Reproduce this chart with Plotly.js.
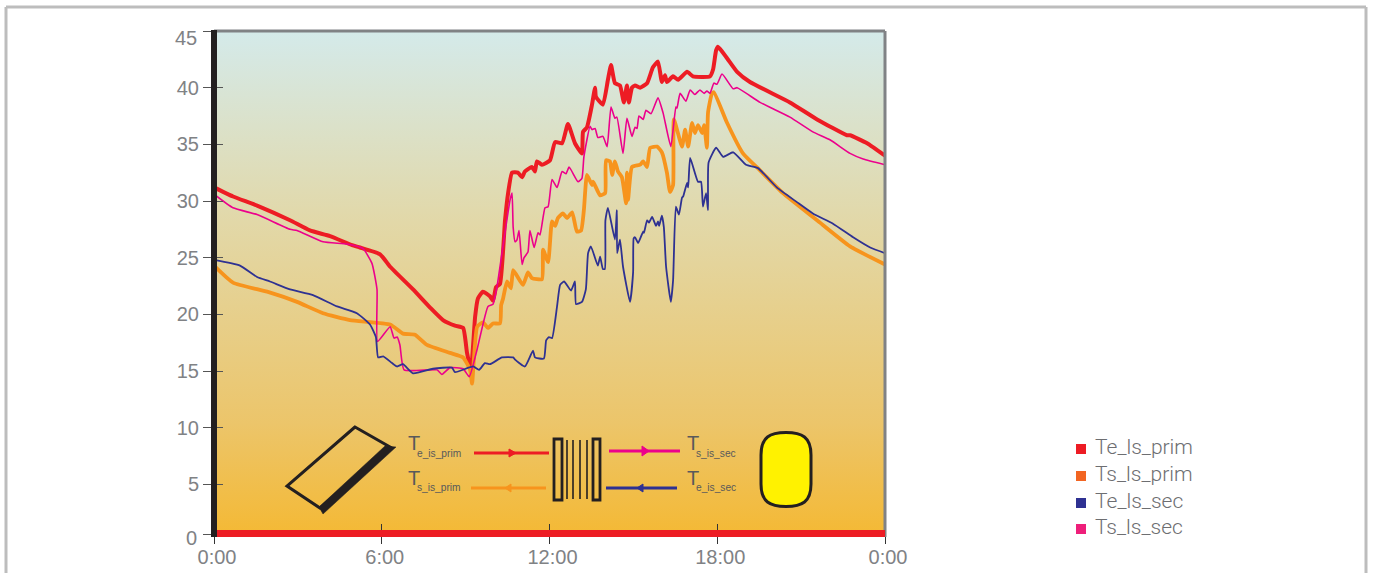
<!DOCTYPE html>
<html><head><meta charset="utf-8">
<script src="https://cdn.plot.ly/plotly-3.0.1.min.js"></script>
<style>html,body{margin:0;padding:0;background:#fff;overflow:hidden}#c{width:1375px;height:573px}</style>
</head><body><div id="c"></div>
<script>
// [hour, temperature °C]
const Te_ls_prim=[[0,31.2],[.68,30.4],[1.54,29.6],[2.72,28.3],[3.43,27.4],[4.15,26.9],[4.94,26.1],[5.22,25.9],[5.94,25.3],[6.3,24.2],[7.12,22.2],[7.73,20.6],[8.19,19.5],[8.62,19],[8.91,18.8],[9.05,16.6],[9.19,15.1],[9.34,19.8],[9.44,21.4],[9.62,22],[9.87,21.6],[9.98,21.2],[10.09,22.4],[10.23,22.7],[10.41,28.3],[10.52,30.7],[10.66,32.5],[10.87,32.5],[11.02,32.1],[11.12,32.6],[11.37,33],[11.48,32.6],[11.55,33.5],[11.73,33.2],[12.02,33.6],[12.2,35.2],[12.45,35.1],[12.66,36.8],[12.91,35.1],[13.16,34.2],[13.2,36.1],[13.34,36.5],[13.52,38.5],[13.63,40],[13.66,39.2],[13.91,38.5],[14.09,40.7],[14.2,42],[14.34,40.4],[14.52,40.2],[14.66,38.7],[14.77,40.2],[14.84,38.7],[14.95,40],[15.06,40.2],[15.24,40],[15.49,40.4],[15.7,41.8],[15.88,42.3],[16.02,40.5],[16.13,41.1],[16.2,40.5],[16.42,41],[16.6,40.7],[16.92,41.4],[17.13,41],[17.74,41],[17.85,41.6],[17.96,43.3],[18.03,43.6],[18.35,42.6],[18.71,41.4],[19.17,40.5],[20.6,38.7],[21.57,37.2],[22.64,35.8],[22.75,35.8],[23.36,35.1],[24,34]];
const Ts_ls_prim=[[0,24.3],[.68,22.8],[1.9,22],[2.97,21.1],[3.9,20.1],[4.86,19.5],[6.3,19.1],[6.76,18.3],[7.19,18.2],[7.62,17.3],[8.44,16.6],[8.91,16.2],[9.16,15.1],[9.23,13.9],[9.41,18.9],[9.62,19.3],[9.8,18.8],[9.98,19.2],[10.23,19.2],[10.27,20.8],[10.34,21.4],[10.48,22.9],[10.62,22.3],[10.7,23.9],[11.05,22.6],[11.23,23.7],[11.37,23.2],[11.73,23.1],[11.77,25.7],[11.95,24.6],[12.09,28.2],[12.2,27.8],[12.3,28.5],[12.48,28.9],[12.63,28.5],[12.81,29],[12.98,27.3],[13.13,27.4],[13.23,29.2],[13.34,32.3],[13.52,31.4],[13.56,31.7],[13.81,30.5],[13.99,30.7],[14.02,33.6],[14.16,33.5],[14.24,32.3],[14.34,33.5],[14.45,32.6],[14.59,32.1],[14.74,29.8],[14.77,32.5],[14.81,30.1],[14.95,33],[15.24,33.2],[15.35,33.5],[15.49,33],[15.6,34.7],[15.85,34.8],[16.02,34.3],[16.2,32.5],[16.31,30.8],[16.42,31.4],[16.45,37.2],[16.74,34.8],[16.85,36.3],[16.96,34.8],[17.1,36.9],[17.2,36],[17.31,36.7],[17.46,36],[17.53,36.7],[17.63,34.7],[17.67,37.8],[17.81,39.5],[17.88,39.6],[18.35,36.9],[18.92,34.2],[19.53,32.7],[20.35,30.7],[21.57,28.3],[22.75,26],[24,24.4]];
const Te_ls_sec=[[0,24.8],[.93,24.3],[1.54,23.3],[2,22.9],[2.72,22.2],[3.54,21.7],[4.4,20.7],[5.11,20.1],[5.58,19.1],[5.79,18],[5.87,16.2],[6.05,16.3],[6.37,15.7],[6.55,15.4],[6.76,15.6],[7.12,14.8],[7.83,15.2],[8.51,15.3],[8.62,14.9],[9.27,15.4],[9.48,15.1],[9.69,15.7],[9.87,15.6],[10.3,16.2],[10.7,16.2],[10.77,16],[11.12,15.4],[11.41,16.8],[11.48,16.2],[11.8,16.1],[11.88,17.7],[11.98,18],[12.09,17.9],[12.27,20.7],[12.38,22.6],[12.52,22.9],[12.77,22.1],[12.91,22.9],[12.95,20.9],[13.16,21.1],[13.3,22.2],[13.38,25.4],[13.48,26],[13.73,24.3],[13.81,25.1],[13.91,24],[13.98,24],[14,28.3],[14.09,29.4],[14.34,26.6],[14.41,29.2],[14.42,25.4],[14.52,26.6],[14.63,24.2],[14.88,21.1],[14.99,23.7],[15.01,26.7],[15.06,26.8],[15.17,26.3],[15.35,27.3],[15.38,27.2],[15.49,28.3],[15.56,28.1],[15.67,28.6],[15.81,27.8],[15.88,28.2],[15.92,27.8],[16.02,28.7],[16.09,27.7],[16.17,24.2],[16.34,21.1],[16.42,23],[16.52,29.5],[16.63,28.8],[16.74,30.3],[16.78,30.4],[16.92,31.6],[16.96,31.2],[17.03,33.8],[17.31,31.7],[17.42,31.7],[17.49,29.5],[17.6,30.7],[17.67,29.2],[17.69,33.4],[17.96,34.7],[18.21,33.9],[18.57,34.3],[19.03,33.2],[19.46,32.9],[20.13,31.2],[20.85,29.9],[21.42,28.9],[22.14,28],[22.86,26.8],[23.47,25.9],[24,25.4]];
const Ts_ls_sec=[[0,30.6],[.68,29.4],[1.54,28.8],[2.72,27.5],[2.97,27.4],[3.9,26.4],[4.76,26.2],[5.33,25.8],[5.65,24.5],[5.83,22.2],[5.85,17.6],[6.3,18.9],[6.44,17.9],[6.55,18],[6.65,17.3],[6.8,15.1],[7.98,15.1],[8.15,14.7],[8.44,15.3],[8.91,15.2],[9.13,14.5],[9.41,16.9],[9.8,20.7],[9.98,20.9],[10.12,22.4],[10.3,25.4],[10.59,30.1],[10.66,30.7],[10.7,27.7],[10.77,26.4],[10.84,26.6],[10.91,27.4],[11.02,24.4],[11.09,25],[11.23,25.5],[11.3,27.4],[11.45,25.9],[11.59,27.2],[11.66,27],[11.84,29.4],[11.95,29.5],[12.09,31.9],[12.27,31.2],[12.45,32.6],[12.59,32.4],[12.7,33],[13.02,31.7],[13.16,32],[13.23,33.9],[13.45,36.6],[13.52,36.3],[13.63,36.4],[13.73,35.6],[13.91,35.7],[14.06,34.8],[14.2,38.3],[14.34,37.3],[14.41,37.4],[14.63,34.2],[14.77,37.3],[14.95,35.7],[15.06,36.5],[15.13,36.4],[15.2,37.5],[15.35,37.2],[15.45,38],[15.63,37.7],[15.88,39.1],[16.06,37.8],[16.34,34.8],[16.52,38.3],[16.56,38.2],[16.67,39.5],[16.88,38.8],[17.03,39.8],[17.2,39.4],[17.38,39.8],[17.53,39.5],[17.63,39.7],[17.74,39.5],[17.88,40.4],[17.99,40.3],[18.17,41.2],[18.57,39.9],[18.71,40],[19.53,38.7],[20.6,37.4],[21.42,36.1],[22.03,35.4],[22.75,34.2],[23.22,33.7],[24,33.2]];

const seriesNames=['Te_ls_prim','Ts_ls_prim','Te_ls_sec','Ts_ls_sec'];
const legendColors=['#ED1C24','#F26522','#2E3192','#EE1F7A'];
const xTickVals=[0,6,12,18,24];
const xTickText=['0:00','6:00','12:00','18:00','0:00'];
const yTickVals=[0.62,5,10,15,20,25,30,35,40,45];
const yTickText=['','5','10','15','20','25','30','35','40',''];

const L=214,W=671,B=534,H=503;
const X=p=>(p-L)/W, Y=p=>(B-p)/H;
const line=(x0,y0,x1,y1,c,w)=>({type:'line',xref:'paper',yref:'paper',layer:'above',x0:X(x0),x1:X(x1),y0:Y(y0),y1:Y(y1),line:{color:c,width:w}});
const path=(pts,fill,c,w)=>({type:'path',xref:'paper',yref:'paper',layer:'above',
  path:pts.map((q,i)=>(i?'L':'M')+X(q[0])+','+Y(q[1])).join(' ')+' Z',fillcolor:fill,line:{color:c,width:w}});
const DARK='#231F20';
const legendY=[449,476,503,529];
const shapes=[
 // outer frame
 line(6,7,1366,7,'#BDBDBD',3),line(6,7,6,573,'#BDBDBD',3),line(1366,7,1366,573,'#BDBDBD',3),
 // plot frame
 line(214,31,885,31,'#808285',3),line(885,31,885,537,'#808285',3),
 line(214,533.5,885,533.5,'#ED1C24',7),line(214,30,214,537,DARK,6),
 // collector
 path([[355,427],[287,486],[320,508],[390,447]],'rgba(0,0,0,0)',DARK,3),
 path([[396,447],[323,514],[319,507],[385,446]],DARK,DARK,0.5),
 // pipes
 line(474,453,549,453,'#ED1C24',3),path([[509,449],[516,453],[509,457]],'#ED1C24','#ED1C24',1),
 line(471,488,546,488,'#F7941D',3),path([[511,484],[505,488],[511,492]],'#F7941D','#F7941D',1),
 line(609,451,680,451,'#EC008C',3),path([[642,446],[649,451],[642,456]],'#EC008C','#EC008C',1),
 line(606,488,677,488,'#2E3192',3),path([[643,484],[637,488],[643,492]],'#2E3192','#2E3192',1),
 // exchanger
 path([[554,439],[562,439],[562,500],[554,500]],'rgba(0,0,0,0)',DARK,2.8),
 path([[593,439],[600,439],[600,500],[593,500]],'rgba(0,0,0,0)',DARK,2.8),
 line(567,440,567,499,DARK,1.6),line(573,440,573,499,DARK,1.6),line(580,440,580,499,DARK,1.6),line(587,440,587,499,DARK,1.6),
 // tank
 {type:'path',xref:'paper',yref:'paper',layer:'above',fillcolor:'#FFF200',line:{color:DARK,width:3},
  path:`M ${X(761)},${Y(455)} C ${X(761)},${Y(437)} ${X(770)},${Y(432.5)} ${X(786)},${Y(432.5)} C ${X(802)},${Y(432.5)} ${X(811)},${Y(437)} ${X(811)},${Y(455)} L ${X(811)},${Y(484)} C ${X(811)},${Y(502)} ${X(802)},${Y(506.5)} ${X(786)},${Y(506.5)} C ${X(770)},${Y(506.5)} ${X(761)},${Y(502)} ${X(761)},${Y(484)} Z`},
 // legend swatches
 ...legendColors.map((c,i)=>path([[1076,legendY[i]-5],[1086,legendY[i]-5],[1086,legendY[i]+5],[1076,legendY[i]+5]],c,c,0))
];
const label=(x,y,t,s)=>({xref:'paper',yref:'paper',x:X(x),y:Y(y),xanchor:'left',yanchor:'middle',text:t,showarrow:false,align:'left',
  font:{family:'Liberation Sans, Arial, sans-serif',size:s,color:'#58595B'},borderpad:0,borderwidth:0});
const tickFont={family:'Liberation Sans, Arial, sans-serif',size:20,color:'#808285'};
const annotations=[
 label(408,443,'T',20),label(417,453,'e_is_prim',10.2),
 label(408,478,'T',20),label(417,488,'s_is_prim',10.2),
 label(687,443,'T',20),label(696,453,'s_is_sec',10.2),
 label(687,478,'T',20),label(696,488,'e_is_sec',10.2),
 // end labels of the y axis sit off their ticks in the original
 {xref:'paper',yref:'paper',x:X(198),y:Y(38),xanchor:'right',yanchor:'middle',text:'45',showarrow:false,font:tickFont,borderpad:0},
 {xref:'paper',yref:'paper',x:X(198),y:Y(538),xanchor:'right',yanchor:'middle',text:'0',showarrow:false,font:tickFont,borderpad:0},
 ...seriesNames.map((n,i)=>({xref:'paper',yref:'paper',x:X(1094),y:Y(legendY[i]-2),xanchor:'left',yanchor:'middle',text:n,showarrow:false,borderpad:0,
   font:{family:'Roboto, sans-serif',size:21,weight:300,color:'#6D6E71'}}))
];
const tr=(d,c,w,n)=>({x:d.map(p=>p[0]),y:d.map(p=>p[1]),mode:'lines',line:{color:c,width:w,shape:'spline',smoothing:0.45},name:n,showlegend:false,hoverinfo:'x+y'});
const bg={x:[0,24,24,0,0],y:[0.62,0.62,45,45,0.62],mode:'lines',line:{width:0},fill:'toself',hoverinfo:'skip',showlegend:false,
 fillgradient:{type:'vertical',colorscale:[[0,'#F4B935'],[0.22,'#ECC56A'],[0.62,'#E2D8A8'],[1,'#D4EAEA']]}};
const anchorTrace={x:[null],y:[null],xaxis:'x2',yaxis:'y2',mode:'lines',showlegend:false,hoverinfo:'skip'};
const layout={
 width:1375,height:573,margin:{l:L,r:1375-L-W,t:31,b:573-B,pad:0},paper_bgcolor:'#fff',plot_bgcolor:'rgba(0,0,0,0)',showlegend:false,
 xaxis:{range:[0,24],tickmode:'array',tickvals:xTickVals,ticktext:xTickText,ticks:'outside',ticklen:9,tickwidth:1,tickcolor:'#333',tickfont:tickFont,ticklabelstandoff:-4,ticklabelshift:3,showgrid:false,zeroline:false,showline:false},
 yaxis:{range:[0.62,45],tickmode:'array',tickvals:yTickVals,ticktext:yTickText,ticks:'outside',ticklen:10,tickwidth:1,tickcolor:'#555',tickfont:tickFont,showgrid:false,zeroline:false,showline:false},
 xaxis2:{overlaying:'x',anchor:'y2',range:[0,24],tickmode:'array',tickvals:xTickVals,ticktext:xTickText,ticks:'inside',ticklen:10,tickwidth:1,tickcolor:'#333',showticklabels:false,showgrid:false,zeroline:false,showline:false},
 yaxis2:{overlaying:'y',anchor:'x2',range:[0.62,45],tickmode:'array',tickvals:yTickVals,ticktext:yTickText,ticks:'inside',ticklen:9,tickwidth:1,tickcolor:'#555',showticklabels:false,showgrid:false,zeroline:false,showline:false},
 shapes,annotations
};
Plotly.newPlot('c',[bg,tr(Te_ls_prim,'#ED1C24',4,seriesNames[0]),tr(Ts_ls_prim,'#F7941D',3.8,seriesNames[1]),tr(Ts_ls_sec,'#EC008C',1.6,seriesNames[3]),tr(Te_ls_sec,'#2E3192',1.8,seriesNames[2]),anchorTrace],layout,{displayModeBar:false,staticPlot:true});
</script></body></html>
